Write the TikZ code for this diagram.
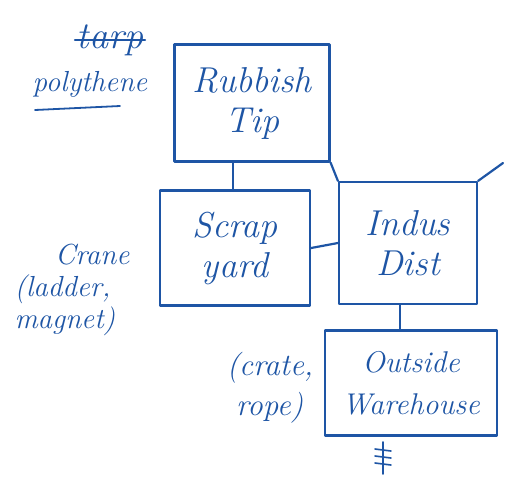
\documentclass[tikz,border=0pt]{standalone}
\begin{document}
\begin{tikzpicture}[x=1pt,y=-1pt,
  ink/.style={draw=inkblue,line width=2.2pt,line cap=round,line join=round},
  box/.style={ink,rectangle,align=center,inner sep=0pt,text=inkblue,font=\fontsize{36}{40}\selectfont\itshape},
  lbl/.style={text=inkblue,align=left,inner sep=0pt}]
\definecolor{inkblue}{RGB}{30,85,165}
\useasboundingbox (0,0) rectangle (510,485);
\fill[white] (0,0) rectangle (510,485);
\node[box,minimum width=155,minimum height=117] (tip) at (252,103) {Rubbish\\Tip};
\node[box,minimum width=150,minimum height=115] (scrap) at (235,248) {Scrap\\yard};
\node[box,minimum width=138,minimum height=122] (indus) at (408,243) {Indus\\Dist};
\node[box,minimum width=172,minimum height=105,font=\fontsize{30}{42}\selectfont\itshape] (ware) at (411,383) {Outside\\Warehouse};
\coordinate (ext) at (503,163);
\draw[ink] ([xshift=-19]tip.south) -- ([xshift=-2]scrap.north);
\draw[ink] (tip.south east) -- (indus.north west);
\draw[ink] (indus.north east) -- (ext);
\draw[ink] (scrap.east) -- (indus.west);
\draw[ink] ([xshift=-8]indus.south) -- ([xshift=-11]ware.north);
% symbol below warehouse
\coordinate (s0) at (383,442);
\coordinate (s1) at (383,474);
\draw[ink,line width=1.6pt] (s0) -- (s1);
\foreach \yy in {449,456,463}{\draw[ink,line width=1.6pt] (375,\yy) -- (391,\yy+2);}
% labels
\node[lbl,font=\fontsize{38}{40}\selectfont\itshape] (tarp) at (110,40) {tarp};
\draw[ink,line width=1.8pt] ([xshift=-2]tarp.west) -- ([xshift=2]tarp.east);
\node[lbl,font=\fontsize{29}{34}\selectfont\itshape] (poly) at (90,84) {polythene};
\draw[ink,line width=1.8pt] (35,110) -- (120,106);
\node[lbl,font=\fontsize{29}{32}\selectfont\itshape] (crane) at (72,290) {\hspace*{1.4em}Crane\\(ladder,\\magnet)};
\node[lbl,font=\fontsize{31}{40}\selectfont\itshape] (crate) at (270,388) {(crate,\\\hspace*{0.3em}rope)};
\end{tikzpicture}
\end{document}
